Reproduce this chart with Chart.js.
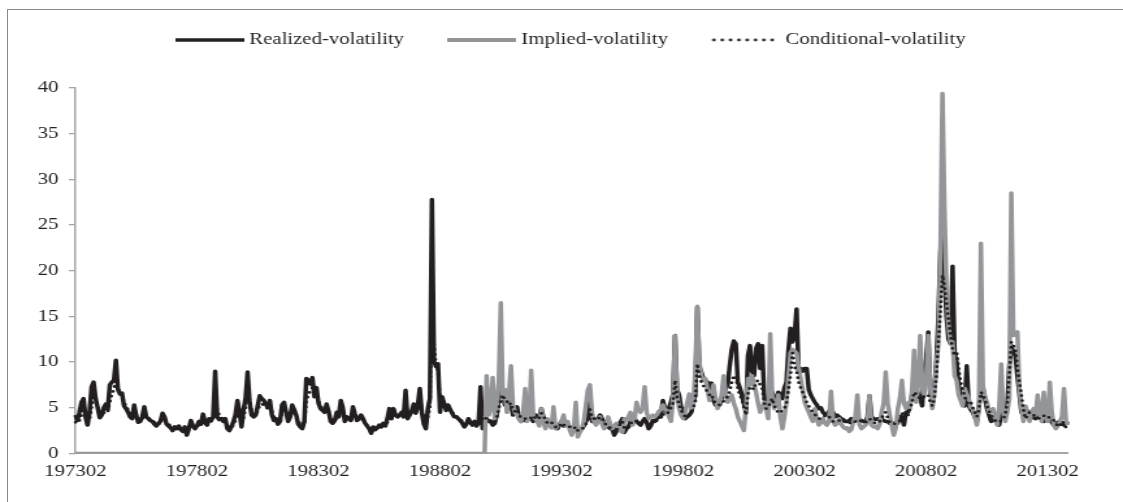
<!DOCTYPE html>
<html>
<head>
<meta charset="utf-8">
<script src="https://cdn.jsdelivr.net/npm/chart.js@4.4.1/dist/chart.umd.min.js"></script>
<style>
  html, body { margin: 0; padding: 0; background: #fff; overflow: hidden; }
  #frame { position: absolute; left: 7px; top: 9px; width: 1200px; height: 600px;
           border-left: 1px solid #8a8a8a; border-top: 1px solid #8a8a8a; }
  /* the original figure is a horizontally stretched Excel chart */
  #wrap { position: absolute; left: 0; top: 0; width: 864px; height: 502px;
          transform: scaleX(1.29977); transform-origin: 0 0; }
</style>
</head>
<body>
<div id="frame"></div>
<div id="wrap"><canvas id="volChart" width="864" height="502"></canvas></div>
<script>
// Monthly categories 197302 .. 201312
var months = [];
for (var yr = 1973; yr <= 2013; yr++) {
  for (var mo = (yr === 1973 ? 2 : 1); mo <= 12; mo++) {
    months.push(String(yr) + (mo < 10 ? '0' : '') + mo);
  }
}

// Labels shown on the x axis
var tickLabels = ['197302', '197802', '198302', '198802', '199302', '199802', '200302', '200802', '201302'];

// Realized volatility, one row per calendar year
var realized = [
  4.2, 3.6, 4.5, 5.6, 6.0, 4.0, 3.1, 4.5, 7.3, 7.8, 6.0,
  5.0, 3.9, 4.2, 5.0, 5.4, 4.8, 7.5, 7.8, 8.0, 10.2, 7.0, 6.5,
  6.6, 5.2, 4.9, 4.5, 4.0, 3.8, 5.3, 4.2, 3.4, 3.5, 4.0, 5.1,
  4.0, 3.8, 3.6, 3.5, 3.2, 3.0, 3.3, 3.5, 4.4, 4.0, 3.2, 3.0,
  2.8, 2.5, 2.9, 2.7, 3.0, 2.6, 2.4, 2.9, 2.0, 2.7, 3.6, 3.0,
  2.7, 3.0, 3.5, 3.2, 4.3, 3.4, 3.1, 3.8, 3.6, 4.0, 9.0, 4.0,
  3.7, 3.8, 3.5, 3.8, 2.7, 2.5, 2.9, 3.5, 4.2, 5.8, 4.5, 2.9,
  4.8, 6.0, 8.9, 5.6, 4.2, 4.0, 4.2, 5.2, 6.3, 6.0, 5.8, 5.4,
  5.0, 5.8, 4.2, 3.6, 3.8, 3.2, 3.5, 5.3, 5.6, 4.5, 3.5, 4.0,
  5.3, 4.8, 4.2, 3.2, 2.9, 2.7, 3.5, 8.2, 8.0, 7.6, 8.3, 6.2,
  7.2, 5.5, 4.9, 4.7, 4.5, 5.4, 4.6, 3.5, 3.3, 3.6, 4.5, 4.0,
  5.8, 5.0, 3.5, 4.0, 3.8, 3.6, 5.1, 4.3, 3.6, 3.8, 4.2, 3.8,
  3.3, 3.0, 2.7, 2.2, 2.9, 2.6, 2.8, 3.1, 2.9, 3.3, 3.0, 3.8,
  4.9, 3.8, 4.9, 4.2, 4.0, 4.2, 4.5, 4.0, 6.9, 3.8, 4.2, 4.6,
  5.4, 4.4, 5.2, 7.1, 4.5, 3.2, 2.7, 4.9, 6.0, 27.8, 10.1, 9.5,
  9.8, 4.5, 6.2, 5.5, 4.7, 5.3, 4.8, 4.4, 4.0, 4.0, 3.8, 3.6,
  3.3, 2.9, 3.2, 3.8, 3.4, 3.1, 3.5, 3.0, 3.3, 7.3, 2.7, 3.8,
  3.8, 3.5, 3.5, 3.1, 3.3, 4.2, 6.0, 6.7, 6.7, 5.3, 5.6, 5.0,
  5.6, 4.2, 4.6, 5.1, 3.8, 3.5, 3.8, 3.6, 3.9, 3.8, 4.0, 3.5,
  4.2, 3.8, 4.0, 4.9, 4.0, 3.6, 3.1, 3.3, 3.5, 3.0, 2.8, 2.7,
  3.2, 3.5, 3.0, 3.2, 3.1, 2.9, 2.8, 2.7, 3.0, 2.3, 2.5, 2.7,
  3.0, 3.5, 4.0, 6.0, 3.5, 3.8, 3.6, 3.8, 4.2, 3.8, 3.3, 3.0,
  2.9, 2.7, 2.7, 2.0, 2.4, 3.1, 3.4, 3.8, 2.3, 2.7, 2.9, 3.5,
  3.6, 3.8, 3.5, 3.3, 3.1, 3.5, 3.8, 3.4, 2.7, 3.0, 3.6, 3.5,
  3.8, 4.2, 4.0, 5.8, 4.9, 4.5, 5.0, 5.6, 6.5, 12.9, 7.0, 6.4,
  5.0, 4.9, 3.8, 4.0, 4.2, 4.5, 5.5, 6.4, 16.0, 9.5, 8.9, 8.2,
  8.0, 7.8, 7.2, 7.7, 5.8, 5.3, 5.5, 5.3, 6.0, 6.4, 7.1, 7.5,
  9.6, 11.4, 12.3, 12.0, 7.8, 7.2, 6.4, 5.5, 4.5, 10.7, 11.8, 9.0,
  8.5, 11.5, 12.0, 9.3, 11.8, 6.4, 4.9, 5.5, 6.2, 6.7, 5.6, 6.0,
  6.7, 6.4, 6.0, 7.2, 7.8, 11.4, 13.7, 12.2, 13.0, 15.8, 8.9, 9.3,
  9.0, 9.3, 9.3, 7.0, 6.4, 6.0, 5.6, 5.3, 4.9, 5.0, 4.5, 4.3,
  4.2, 4.6, 4.5, 4.5, 4.0, 4.2, 4.0, 3.8, 3.7, 3.5, 3.5, 3.6,
  3.8, 3.6, 3.6, 3.6, 3.7, 3.6, 3.5, 3.4, 4.0, 6.3, 4.0, 3.8,
  3.7, 3.8, 3.8, 3.8, 3.6, 3.5, 3.5, 3.3, 3.4, 3.2, 3.1, 3.4,
  3.8, 4.0, 3.1, 4.5, 4.5, 5.5, 6.4, 6.8, 7.1, 6.5, 6.0, 5.2,
  9.0, 10.4, 13.3, 6.4, 6.7, 7.1, 10.0, 15.0, 22.0, 26.0, 20.0, 15.0,
  12.5, 12.0, 20.5, 11.0, 10.0, 7.5, 6.5, 5.6, 5.2, 9.6, 5.2, 4.8,
  4.5, 4.0, 3.5, 5.0, 7.4, 7.1, 6.0, 4.9, 4.2, 3.5, 3.6, 3.8,
  3.4, 3.1, 4.2, 4.5, 5.2, 5.0, 9.6, 11.8, 11.0, 10.7, 8.5, 6.5,
  4.5, 4.7, 4.9, 4.6, 4.5, 4.2, 3.9, 3.8, 4.0, 4.2, 3.8, 3.5,
  3.7, 3.8, 3.8, 3.4, 3.1, 3.3, 3.4, 3.5, 3.2, 3.1, 3.3, 3.5
];

// Implied volatility (zero before 1990)
var implied = [
  0, 0, 0, 0, 0, 0, 0, 0, 0, 0, 0,
  0, 0, 0, 0, 0, 0, 0, 0, 0, 0, 0, 0,
  0, 0, 0, 0, 0, 0, 0, 0, 0, 0, 0, 0,
  0, 0, 0, 0, 0, 0, 0, 0, 0, 0, 0, 0,
  0, 0, 0, 0, 0, 0, 0, 0, 0, 0, 0, 0,
  0, 0, 0, 0, 0, 0, 0, 0, 0, 0, 0, 0,
  0, 0, 0, 0, 0, 0, 0, 0, 0, 0, 0, 0,
  0, 0, 0, 0, 0, 0, 0, 0, 0, 0, 0, 0,
  0, 0, 0, 0, 0, 0, 0, 0, 0, 0, 0, 0,
  0, 0, 0, 0, 0, 0, 0, 0, 0, 0, 0, 0,
  0, 0, 0, 0, 0, 0, 0, 0, 0, 0, 0, 0,
  0, 0, 0, 0, 0, 0, 0, 0, 0, 0, 0, 0,
  0, 0, 0, 0, 0, 0, 0, 0, 0, 0, 0, 0,
  0, 0, 0, 0, 0, 0, 0, 0, 0, 0, 0, 0,
  0, 0, 0, 0, 0, 0, 0, 0, 0, 0, 0, 0,
  0, 0, 0, 0, 0, 0, 0, 0, 0, 0, 0, 0,
  0, 0, 0, 0, 0, 0, 0, 0, 0, 0, 0, 0,
  8.5, 4.2, 5.0, 8.3, 3.8, 5.0, 8.0, 16.5, 6.0, 7.0, 4.5, 6.5,
  9.6, 5.3, 4.5, 4.2, 3.8, 3.5, 4.5, 7.1, 3.5, 4.0, 9.1, 4.0,
  3.8, 3.5, 3.0, 4.9, 3.5, 2.7, 3.8, 3.0, 2.8, 5.1, 2.7, 3.0,
  3.1, 3.5, 4.2, 3.0, 3.5, 2.6, 2.0, 2.5, 5.6, 1.8, 2.3, 2.7,
  3.5, 5.3, 7.0, 7.5, 4.5, 3.5, 3.1, 3.5, 4.0, 3.2, 2.7, 3.0,
  4.0, 3.2, 2.7, 3.0, 3.3, 2.8, 2.5, 2.3, 3.8, 3.6, 4.0, 4.5,
  3.1, 3.6, 5.6, 4.8, 4.5, 5.0, 7.3, 4.5, 3.8, 4.0, 4.2, 4.0,
  4.2, 4.6, 4.8, 5.3, 4.8, 4.7, 4.0, 3.5, 6.0, 12.9, 6.5, 4.9,
  4.2, 3.8, 4.5, 5.5, 6.5, 4.9, 5.5, 9.0, 16.1, 10.0, 8.5, 8.0,
  8.2, 7.0, 5.8, 6.5, 7.5, 6.0, 4.9, 5.5, 6.4, 8.5, 6.5, 5.6,
  6.0, 6.4, 5.5, 4.9, 4.0, 3.5, 3.0, 2.5, 5.0, 8.2, 7.5, 8.5,
  7.5, 6.7, 5.5, 4.5, 5.0, 5.6, 4.9, 3.8, 13.1, 6.0, 4.9, 5.5,
  6.4, 4.0, 2.7, 4.0, 5.6, 8.5, 11.0, 11.4, 11.2, 11.0, 9.5, 8.2,
  7.0, 5.6, 5.0, 4.5, 4.0, 3.5, 4.9, 3.8, 3.1, 3.4, 3.8, 3.3,
  3.1, 3.5, 6.8, 3.5, 3.1, 3.3, 3.8, 3.2, 2.9, 2.7, 2.8, 2.4,
  2.6, 3.5, 4.0, 6.4, 3.2, 2.7, 2.9, 3.1, 3.4, 6.3, 3.1, 2.9,
  3.0, 2.7, 3.2, 4.5, 5.5, 8.9, 5.5, 4.2, 3.0, 2.0, 2.8, 4.9,
  6.0, 8.0, 5.5, 4.9, 5.5, 4.9, 7.0, 11.3, 5.6, 7.5, 12.9, 8.0,
  6.4, 8.0, 12.9, 7.0, 4.9, 6.5, 9.8, 12.0, 22.0, 39.4, 27.0, 18.0,
  14.0, 12.0, 12.2, 8.5, 8.0, 6.4, 5.8, 5.2, 7.1, 6.5, 6.0, 5.0,
  4.9, 4.0, 3.1, 5.0, 23.0, 7.4, 6.2, 5.6, 4.5, 4.7, 4.9, 4.0,
  3.1, 5.0, 9.8, 4.5, 3.5, 4.5, 6.0, 28.5, 12.9, 13.0, 13.3, 7.1,
  5.0, 3.5, 5.2, 4.3, 3.5, 4.5, 4.9, 4.2, 6.4, 4.5, 3.5, 6.7,
  4.0, 3.5, 7.8, 4.5, 3.1, 2.7, 3.0, 3.5, 4.0, 7.1, 3.5, 3.1
];

// Conditional volatility
var conditional = [
  3.4, 3.3, 3.6, 4.2, 4.8, 4.5, 3.8, 3.7, 5.0, 6.3, 6.0,
  5.2, 4.5, 4.2, 4.4, 4.7, 4.6, 5.6, 6.5, 7.0, 8.2, 7.3, 6.6,
  6.3, 5.6, 5.2, 4.8, 4.4, 4.1, 4.5, 4.3, 3.8, 3.6, 3.7, 4.3,
  4.1, 3.9, 3.7, 3.6, 3.4, 3.2, 3.2, 3.3, 3.8, 3.8, 3.4, 3.2,
  3.0, 2.8, 2.8, 2.7, 2.8, 2.7, 2.6, 2.7, 2.3, 2.5, 3.0, 2.9,
  2.7, 2.8, 3.1, 3.1, 3.6, 3.4, 3.2, 3.4, 3.5, 3.6, 6.3, 4.8,
  4.2, 3.9, 3.7, 3.6, 3.1, 2.8, 2.8, 3.1, 3.6, 4.6, 4.4, 3.5,
  3.9, 4.9, 6.8, 5.8, 4.8, 4.3, 4.2, 4.6, 5.3, 5.4, 5.3, 5.1,
  4.9, 5.2, 4.6, 4.0, 3.8, 3.5, 3.4, 4.3, 4.8, 4.5, 3.9, 3.9,
  4.5, 4.5, 4.2, 3.6, 3.2, 2.9, 3.1, 5.6, 6.5, 6.8, 7.2, 6.4,
  6.6, 5.8, 5.2, 4.9, 4.6, 4.9, 4.6, 3.9, 3.6, 3.5, 3.9, 3.9,
  4.7, 4.7, 3.9, 3.9, 3.8, 3.7, 4.4, 4.2, 3.8, 3.7, 3.9, 3.7,
  3.4, 3.1, 2.9, 2.5, 2.7, 2.6, 2.7, 2.9, 2.9, 3.1, 3.0, 3.4,
  4.1, 3.8, 4.3, 4.1, 4.0, 4.1, 4.3, 4.1, 5.5, 4.4, 4.3, 4.5,
  4.9, 4.5, 4.8, 5.9, 4.9, 3.9, 3.3, 4.0, 5.0, 14.8, 12.0, 9.6,
  9.0, 6.0, 6.0, 5.6, 5.0, 5.1, 4.8, 4.5, 4.2, 4.1, 3.9, 3.7,
  3.5, 3.1, 3.1, 3.5, 3.3, 3.1, 3.3, 3.0, 3.1, 5.2, 3.6, 3.7,
  3.9, 3.7, 3.6, 3.4, 3.4, 3.9, 4.9, 5.8, 6.4, 5.8, 5.7, 5.3,
  5.5, 4.7, 4.6, 4.8, 4.2, 3.9, 3.9, 3.8, 3.9, 3.8, 3.9, 3.7,
  4.0, 3.8, 3.9, 4.4, 4.1, 3.7, 3.3, 3.3, 3.4, 3.1, 2.9, 2.8,
  3.0, 3.3, 3.1, 3.1, 3.1, 2.9, 2.8, 2.7, 2.9, 2.5, 2.5, 2.6,
  2.9, 3.2, 3.6, 4.8, 3.9, 3.8, 3.7, 3.7, 4.0, 3.8, 3.4, 3.1,
  2.9, 2.8, 2.7, 2.3, 2.4, 2.9, 3.2, 3.5, 2.7, 2.7, 2.9, 3.3,
  3.4, 3.6, 3.5, 3.3, 3.2, 3.4, 3.6, 3.4, 3.0, 3.0, 3.4, 3.4,
  3.6, 4.0, 3.9, 4.2, 4.4, 4.3, 4.6, 5.0, 5.5, 8.0, 6.2, 5.3,
  4.7, 4.4, 4.0, 4.0, 4.2, 4.4, 5.0, 5.6, 9.8, 8.5, 7.8, 7.4,
  7.0, 6.8, 6.4, 6.5, 5.8, 5.5, 5.4, 5.3, 5.6, 5.7, 6.0, 6.2,
  6.8, 7.8, 8.5, 8.4, 7.0, 6.4, 5.9, 5.0, 4.2, 6.5, 7.3, 7.2,
  7.0, 7.8, 8.0, 7.5, 7.1, 5.6, 4.9, 5.0, 5.6, 6.0, 5.2, 4.8,
  4.4, 4.5, 4.7, 4.9, 5.5, 7.0, 8.5, 11.0, 9.5, 9.0, 7.8, 7.2,
  6.7, 6.2, 5.6, 5.2, 4.8, 4.5, 4.3, 4.0, 3.8, 3.8, 4.0, 4.1,
  4.2, 4.0, 3.8, 3.5, 3.5, 3.6, 3.6, 3.5, 3.6, 3.4, 3.3, 3.3,
  3.4, 3.3, 3.5, 3.6, 3.5, 3.6, 3.5, 3.4, 3.6, 3.8, 3.6, 3.4,
  3.3, 3.3, 3.5, 3.8, 4.3, 4.5, 3.9, 3.4, 3.3, 3.2, 3.3, 3.4,
  3.6, 4.5, 4.0, 3.8, 4.2, 4.9, 5.6, 6.7, 6.5, 6.2, 6.0, 6.2,
  6.2, 6.2, 6.4, 5.6, 5.2, 6.0, 8.5, 12.2, 15.4, 19.5, 18.3, 16.5,
  14.7, 12.9, 11.4, 10.7, 11.2, 9.3, 7.8, 7.0, 6.2, 5.6, 5.4, 5.6,
  5.0, 4.5, 4.0, 4.8, 6.7, 6.4, 5.8, 5.2, 4.6, 4.2, 3.8, 3.6,
  3.5, 3.4, 3.6, 3.8, 4.2, 5.5, 8.5, 12.2, 11.8, 11.4, 9.3, 7.8,
  6.4, 4.8, 3.8, 4.2, 4.5, 4.3, 4.2, 4.0, 3.9, 3.8, 3.9, 4.1,
  4.2, 4.0, 3.9, 3.8, 3.6, 3.3, 2.9, 3.1, 3.5, 3.3, 2.8, 2.7
];

var black = '#231f20';
var grey = '#939598';
var axisGrey = '#a6a6a6';

Chart.defaults.font.family = "'Liberation Serif', 'Times New Roman', serif";
Chart.defaults.font.size = 16;
Chart.defaults.color = black;

// Legend samples: a solid black line, a solid grey line and a dotted line
function makeIcon(color, width, dotted) {
  var c = document.createElement('canvas');
  c.width = 53;
  c.height = 10;
  var g = c.getContext('2d');
  g.strokeStyle = color;
  g.lineWidth = width;
  if (dotted) {
    g.setLineDash([0, 6.4]);
    g.lineCap = 'round';
  }
  g.beginPath();
  g.moveTo(dotted ? 2 : 0, 5);
  g.lineTo(53, 5);
  g.stroke();
  return c;
}
var legendIcons = [makeIcon(black, 3.5, false), makeIcon(grey, 4, false), makeIcon(black, 2.8, true)];

// Move the legend to where the original has it
var placeLegend = {
  id: 'placeLegend',
  afterLayout: function (chart) {
    var lg = chart.legend;
    lg.left += 19.5;
    lg.right += 19.5;
    lg.top -= 30;
    lg.bottom -= 30;
  }
};

var ctx = document.getElementById('volChart').getContext('2d');
new Chart(ctx, {
  type: 'line',
  data: {
    labels: months,
    datasets: [
      {
        label: 'Realized-volatility',
        data: realized,
        borderColor: black,
        borderWidth: 3.5,
        borderJoinStyle: 'round',
        pointRadius: 0,
        tension: 0,
        order: 3
      },
      {
        label: 'Implied-volatility',
        data: implied,
        borderColor: grey,
        borderWidth: 3.5,
        borderJoinStyle: 'round',
        pointRadius: 0,
        tension: 0,
        order: 2
      },
      {
        label: 'Conditional-volatility',
        data: conditional,
        borderColor: black,
        borderWidth: 2.8,
        borderDash: [0, 5],
        borderCapStyle: 'round',
        borderJoinStyle: 'round',
        pointRadius: 0,
        tension: 0,
        order: 1
      }
    ]
  },
  options: {
    responsive: false,
    animation: false,
    events: [],
    layout: { padding: { top: 24.7, left: 21, right: 42.3, bottom: 12.6 } },
    plugins: {
      tooltip: { enabled: false },
      legend: {
        position: 'top',
        labels: {
          usePointStyle: true,
          pointStyleWidth: 45,
          boxHeight: 10,
          padding: 37.3,
          color: black,
          generateLabels: function (chart) {
            var items = Chart.defaults.plugins.legend.labels.generateLabels(chart);
            items.sort(function (a, b) { return a.datasetIndex - b.datasetIndex; });
            items.forEach(function (it) { it.pointStyle = legendIcons[it.datasetIndex]; });
            return items;
          }
        }
      }
    },
    scales: {
      x: {
        grid: { display: false, drawTicks: false, tickLength: 0 },
        border: { color: axisGrey, width: 2 },
        ticks: {
          autoSkip: false,
          maxRotation: 0,
          minRotation: 0,
          padding: 8.4,
          color: black,
          callback: function (value, index) {
            var lab = months[index];
            return tickLabels.indexOf(lab) >= 0 ? lab : '';
          }
        }
      },
      y: {
        min: 0,
        max: 40,
        grid: { drawOnChartArea: false, drawTicks: true, tickLength: 5, color: axisGrey, lineWidth: 1.3 },
        border: { color: axisGrey, width: 1.5 },
        ticks: { stepSize: 5, padding: 8, color: black }
      }
    }
  },
  plugins: [placeLegend]
});
</script>
</body>
</html>
